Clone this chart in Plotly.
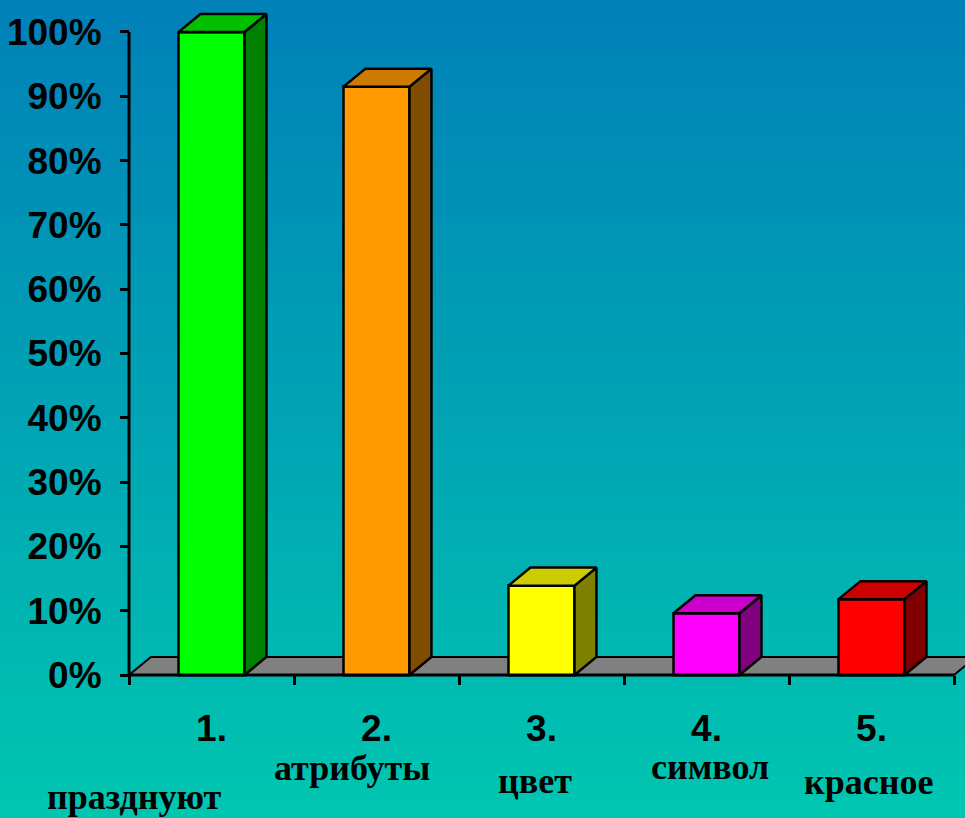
import plotly.graph_objects as go

# ---------------- data ----------------
categories = ["1.", "2.", "3.", "4.", "5."]
subtitles = ["празднуют", "атрибуты", "цвет", "символ", "красное"]
values = [100, 91.5, 13.9, 9.6, 11.8]
y_ticks = [0, 10, 20, 30, 40, 50, 60, 70, 80, 90, 100]
y_tick_labels = ["0%", "10%", "20%", "30%", "40%", "50%", "60%", "70%", "80%", "90%", "100%"]

# ---------------- styles ----------------
front_colors = ["#00FF00", "#FF9900", "#FFFF00", "#FF00FF", "#FF0000"]
top_colors = ["#00C000", "#CC7A00", "#CCCC00", "#CC00CC", "#CC0000"]
side_colors = ["#008000", "#7F4C00", "#808000", "#800080", "#800000"]
bg_top = (0x00, 0x80, 0xB8)
bg_bottom = (0x00, 0xC6, 0xB0)

W, H = 965, 818
X0_PX, UX = 129, 165.0      # pixel of x=0, pixels per category
Y0_PX, UY = 675, 6.43       # pixel of y=0, pixels per percent
DX, DY = 0.133, 2.8         # 3-D depth offset in axis units
BAR_W = 0.4
LINE = 2.5

x_range = [-0.05, (W - X0_PX) / UX]
y_range = [-1.0, 103.5]
xdom = [(X0_PX + x_range[0] * UX) / W, 1.0]
ydom = [(H - (Y0_PX - y_range[0] * UY)) / H, (H - (Y0_PX - y_range[1] * UY)) / H]

tick_font = dict(family="Liberation Sans, Arial, sans-serif",
                 size=37, color="black", weight="bold")
sub_font = dict(family="Liberation Serif, Times New Roman, serif", size=36,
                color="black", weight="bold")

centers = [i + 0.5 for i in range(len(categories))]

fig = go.Figure()

# front faces
fig.add_trace(go.Bar(
    x=centers, y=values, width=BAR_W,
    marker=dict(color=front_colors, line=dict(color="black", width=LINE)),
    showlegend=False, hoverinfo="skip",
))

# side and top faces
for xc, v, tc, sc in zip(centers, values, top_colors, side_colors):
    x0, x1 = xc - BAR_W / 2, xc + BAR_W / 2
    fig.add_trace(go.Scatter(
        x=[x1, x1 + DX, x1 + DX, x1, x1],
        y=[0, DY, v + DY, v, 0],
        fill="toself", fillcolor=sc, mode="lines",
        line=dict(color="black", width=LINE), showlegend=False, hoverinfo="skip",
    ))
    fig.add_trace(go.Scatter(
        x=[x0, x0 + DX, x1 + DX, x1, x0],
        y=[v, v + DY, v + DY, v, v],
        fill="toself", fillcolor=tc, mode="lines",
        line=dict(color="black", width=LINE), showlegend=False, hoverinfo="skip",
    ))

shapes = []
# background gradient
N = 120
for k in range(N):
    t = (k + 0.5) / N
    c = tuple(round(a + (b - a) * t) for a, b in zip(bg_top, bg_bottom))
    shapes.append(dict(type="rect", xref="paper", yref="paper", x0=0, x1=1,
                       y0=1 - (k + 1) / N - 0.001, y1=1 - k / N + 0.001,
                       fillcolor="rgb(%d,%d,%d)" % c, line=dict(width=0), layer="below"))
# floor
n = len(categories)
shapes.append(dict(type="path", xref="x", yref="y",
                   path=f"M 0,0 L {n},0 L {n + DX},{DY} L {DX},{DY} Z",
                   fillcolor="#808080", line=dict(color="black", width=2), layer="below"))
# axis lines
shapes.append(dict(type="line", xref="x", yref="y", x0=0, x1=0, y0=0, y1=y_ticks[-1],
                   line=dict(color="black", width=3), layer="above"))
shapes.append(dict(type="line", xref="x", yref="y", x0=0, x1=n, y0=0, y1=0,
                   line=dict(color="black", width=3), layer="above"))

# second-line category labels
sub_x_px = [134, 352, 535, 710, 868]
sub_y_px = [797, 768, 781, 767, 782]
annotations = []
for s, xp, yp in zip(subtitles, sub_x_px, sub_y_px):
    annotations.append(dict(text=s, xref="paper", yref="paper", x=xp / W, y=1 - yp / H,
                            xanchor="center", yanchor="middle", showarrow=False, font=sub_font))

fig.update_layout(
    width=W, height=H, autosize=False,
    margin=dict(l=0, r=0, t=0, b=0, pad=0),
    paper_bgcolor="rgb(0,163,180)",
    plot_bgcolor="rgba(0,0,0,0)",
    shapes=shapes, annotations=annotations,
    bargap=0,
    xaxis=dict(range=x_range, domain=xdom, anchor="free", position=(H - Y0_PX) / H,
               automargin=False, fixedrange=True,
               showgrid=False, zeroline=False, showline=False,
               tickmode="array", tickvals=centers, ticktext=categories, ticks="",
               tickfont=tick_font, ticklabelstandoff=28,
               minor=dict(tickmode="linear", tick0=0, dtick=1, ticks="outside",
                          ticklen=9, tickwidth=3, tickcolor="black", showgrid=False)),
    yaxis=dict(range=y_range, domain=ydom, anchor="free", position=X0_PX / W,
               automargin=False, fixedrange=True,
               showgrid=False, zeroline=False, showline=False,
               tickmode="array", tickvals=y_ticks, ticktext=y_tick_labels,
               ticks="outside", ticklen=9, tickwidth=3, tickcolor="black",
               tickfont=tick_font, ticklabelstandoff=11),
)

fig.write_html("out.html", config={"displayModeBar": False},
               post_script="document.body.style.margin='0px';")
